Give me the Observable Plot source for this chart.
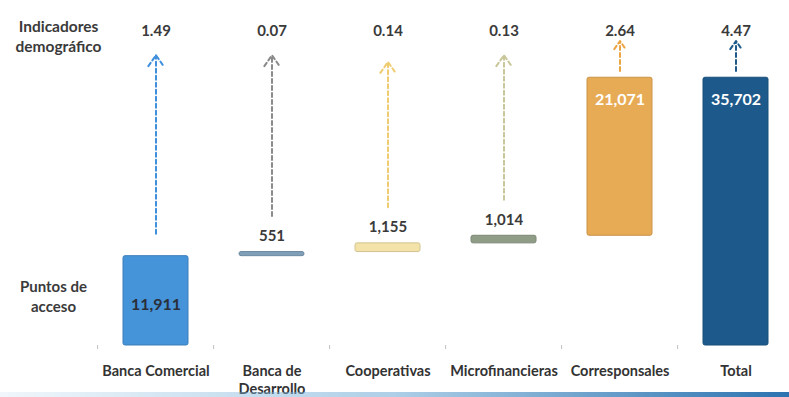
<!DOCTYPE html>
<html>
<head>
<meta charset="utf-8">
<script src="https://cdn.jsdelivr.net/npm/d3@7"></script>
<script src="https://cdn.jsdelivr.net/npm/@observablehq/plot@0.6"></script>
<style>
  html, body { margin: 0; padding: 0; background: #fff; }
  #wrap { position: relative; width: 789px; height: 397px; overflow: hidden; }
  #band { position: absolute; left: 0; right: 0; bottom: 0; height: 5px;
          background: linear-gradient(to right, rgba(160,200,230,0.15), rgba(120,175,215,0.6) 50%, #2c73b0); }
</style>
</head>
<body>
<div id="wrap"><div id="band"></div></div>
<script>
// Puntos de acceso por tipo de institución (cascada hasta el total)
const categories = ["Banca Comercial", "Banca de Desarrollo", "Cooperativas", "Microfinancieras", "Corresponsales", "Total"];
const tickLabels = ["Banca Comercial", "Banca de\nDesarrollo", "Cooperativas", "Microfinancieras", "Corresponsales", "Total"];
const puntos = [11911, 551, 1155, 1014, 21071, 35702];
const indicadores = [1.49, 0.07, 0.14, 0.13, 2.64, 4.47];
const barColors = ["#4593d8", "#7f9fb8", "#f3e3a8", "#8f9d86", "#e8ab55", "#1d5a8b"];
const arrowColors = ["#3f8fdc", "#8a8a8a", "#f0cc70", "#c9c79a", "#eba544", "#1d5a8b"];

// Build waterfall steps: each bar starts where the previous one ended; Total starts at 0.
let running = 0;
const steps = categories.map((c, i) => {
  const isTotal = c === "Total";
  const start = isTotal ? 0 : running;
  const end = isTotal ? puntos[i] : running + puntos[i];
  if (!isTotal) running = end;
  const thin = puntos[i] < 5000;
  const tall = end > 30000;
  return {
    cat: c, label: tickLabels[i], value: puntos[i], ind: indicadores[i],
    start, end, thin, tall,
    fill: barColors[i], arrow: arrowColors[i],
    arrowFrom: end + (thin ? 4800 : tall ? 900 : 3000),
    arrowTo: tall ? 40600 : 38700
  };
});
steps[2].arrowTo = 37800;

const fmt = d3.format(",");
const font = "Lato, 'Open Sans', sans-serif";

const chart = Plot.plot({
  width: 789,
  height: 397,
  marginTop: 0,
  marginBottom: 52,
  marginLeft: 95,
  marginRight: 0,
  style: { fontFamily: font, background: "transparent" },
  x: {
    domain: categories, range: [95, 796],
    paddingInner: 0.44, paddingOuter: 0.22,
    axis: null
  },
  y: { domain: [0, 46000], axis: null },
  marks: [
    // base line with category separators
    Plot.ruleY([0], { x1: categories[0], x2: categories[5], stroke: "#c8c8c8", strokeWidth: 1.5,
      insetLeft: -60, insetRight: -60 }),
    Plot.ruleX(categories, {
      x: d => d, y1: 0, y2: 0, stroke: "#c0c0c0", dx: -58.4, insetBottom: -4
    }),
    // bars
    Plot.rectY(steps, {
      x: "cat", y1: "start", y2: "end", fill: "fill",
      stroke: d => d3.color(d.fill).darker(0.4).formatHex(), strokeWidth: 1, rx: 2
    }),
    // dashed arrows up to the demographic indicator
    Plot.arrow(steps, {
      x: "cat", y1: "arrowFrom", y2: "arrowTo",
      stroke: "arrow", strokeWidth: 2, strokeDasharray: "4,3",
      headLength: 10, headAngle: 70, bend: 0
    }),
    // demographic indicators along the top
    Plot.text(steps, {
      x: "cat", frameAnchor: "top", dy: 25, text: d => d.ind.toFixed(2),
      fontSize: 15, fontWeight: "bold", fill: "#3a3a3a"
    }),
    // values: inside for big bars, above for thin ones
    Plot.text(steps.filter(d => d.thin), {
      x: "cat", y: "end", dy: -16, text: d => fmt(d.value),
      fontSize: 15, fontWeight: "bold", fill: "#3a3a3a"
    }),
    Plot.text(steps.filter(d => !d.thin && d.start === 0 && !d.tall), {
      x: "cat", y: d => (d.start + d.end) / 2, dy: 4, text: d => fmt(d.value),
      fontSize: 16, fontWeight: "bold", fill: "#2a2f3a"
    }),
    Plot.text(steps.filter(d => !d.thin && (d.start > 0 || d.tall)), {
      x: "cat", y: "end", dy: 22, text: d => fmt(d.value),
      fontSize: 16, fontWeight: "bold", fill: "#ffffff"
    }),
    // category labels under the axis
    Plot.text(steps, {
      x: "cat", frameAnchor: "bottom", dy: 18, lineAnchor: "top",
      text: "label", fontSize: 14.5, fontWeight: "bold", fill: "#333", lineHeight: 1.25
    }),
    // row headings on the left
    Plot.text(["Indicadores\ndemográfico"], {
      frameAnchor: "top-left", dx: -37, dy: 17, lineAnchor: "top", textAnchor: "middle",
      text: d => d, fontSize: 15.5, fontWeight: "bold", fill: "#3a3a3a", lineHeight: 1.3
    }),
    Plot.text(["Puntos de\nacceso"], {
      frameAnchor: "bottom-left", dx: -42, dy: -68, lineAnchor: "top", textAnchor: "middle",
      text: d => d, fontSize: 15, fontWeight: "bold", fill: "#3a3a3a", lineHeight: 1.35
    })
  ]
});

document.getElementById("wrap").prepend(chart);
</script>
</body>
</html>
